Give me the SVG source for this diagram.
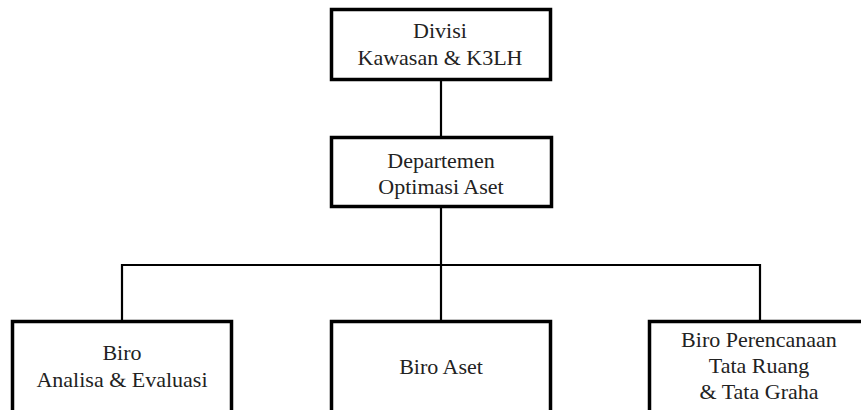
<svg xmlns="http://www.w3.org/2000/svg" width="861" height="410" viewBox="0 0 861 410">
<style>
.box{fill:#fff;stroke:#000;stroke-width:3.5}
.ln{fill:none;stroke:#000;stroke-width:2.2}
.t{font-family:'Liberation Serif','Times New Roman','DejaVu Serif',serif;font-size:22px;fill:#222;text-anchor:middle}
</style>
<rect width="861" height="410" fill="#fff"/>
<g id="connectors">
<line class="ln" x1="441" y1="80" x2="441" y2="137"/>
<line class="ln" x1="441" y1="207" x2="441" y2="321"/>
<polyline class="ln" points="122,321 122,265 760,265 760,321"/>
</g>
<g id="divisi">
<rect class="box" x="331.5" y="9.5" width="219" height="70"/>
<text class="t" x="440" y="38">Divisi</text>
<text class="t" x="440" y="65">Kawasan &amp; K3LH</text>
</g>
<g id="departemen">
<rect class="box" x="331.5" y="137.5" width="220" height="69"/>
<text class="t" x="441" y="168">Departemen</text>
<text class="t" x="441" y="194">Optimasi Aset</text>
</g>
<g id="biro-analisa">
<rect class="box" x="12.5" y="321.5" width="219" height="100"/>
<text class="t" x="122" y="360">Biro</text>
<text class="t" x="122" y="387">Analisa &amp; Evaluasi</text>
</g>
<g id="biro-aset">
<rect class="box" x="331.5" y="321.5" width="219" height="100"/>
<text class="t" x="441" y="374">Biro Aset</text>
</g>
<g id="biro-perencanaan">
<rect class="box" x="649.5" y="321.5" width="219" height="100"/>
<text class="t" x="759" y="347">Biro Perencanaan</text>
<text class="t" x="759" y="373">Tata Ruang</text>
<text class="t" x="759" y="399">&amp; Tata Graha</text>
</g>
</svg>
